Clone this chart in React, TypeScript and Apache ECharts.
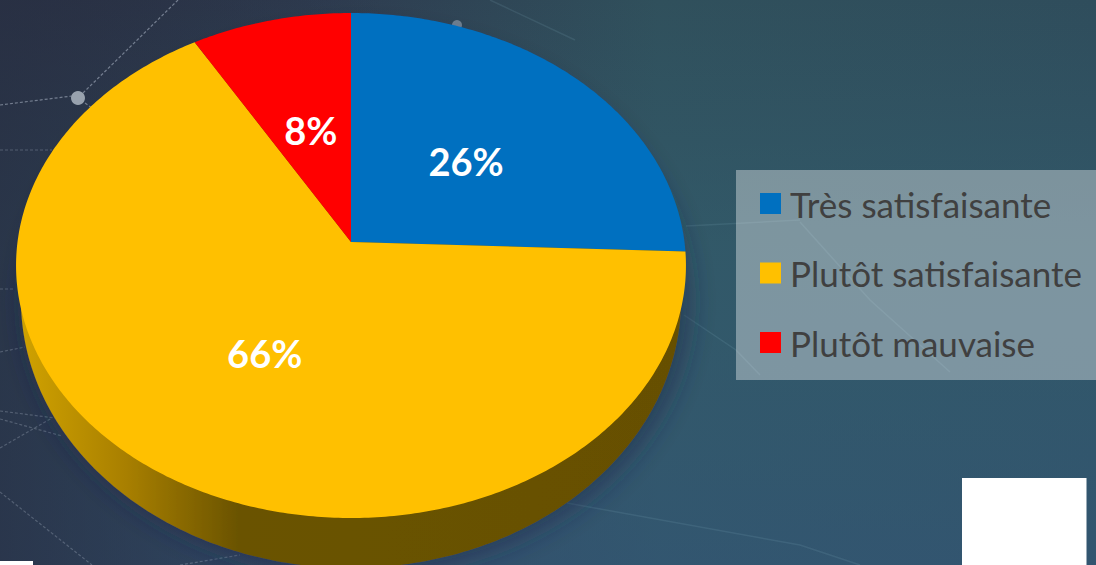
import React, { useEffect, useRef } from "react";
import * as echarts from "echarts";

const categories = ["Très satisfaisante", "Plutôt satisfaisante", "Plutôt mauvaise"];
const shares = [25.6, 65.95, 8.45];
const colors = ["#0070c0", "#ffc000", "#ff0000"];

const W = 1096;
const H = 565;
const FONT = "Lato";

// Perspective projection of the tilted pie disc
const APEX_X = 351;
const APEX_Y = 242;
const RX = 333.5;
const RY = 250.3;
const K = 0.0931;

const project = (thetaDeg: number, f: number) => {
  const t = (thetaDeg * Math.PI) / 180;
  const u = Math.sin(t) * f;
  const v = Math.cos(t) * f;
  const d = 1 + K * v;
  return [APEX_X + (RX * u) / d, APEX_Y - (RY * v) / d];
};

const total = shares.reduce((a, b) => a + b, 0);
const starts: number[] = [];
shares.reduce((acc, s, i) => {
  starts[i] = acc;
  return acc + s;
}, 0);

const bgLines: number[][][] = [
  [[178, 0], [83, 93]],
  [[0, 105], [72, 96]],
  [[85, 103], [92, 108]],
  [[0, 150], [52, 150]],
  [[0, 289], [15, 289]],
  [[0, 352], [25, 347]],
  [[0, 411], [55, 418]],
  [[0, 419], [62, 436]],
  [[0, 448], [52, 418]],
  [[0, 492], [92, 565]],
  [[180, 565], [240, 555]],
  [[490, 0], [575, 40]],
  [[686, 226], [800, 220]],
  [[800, 222], [870, 300], [950, 372]],
  [[684, 315], [736, 350], [760, 375]],
  [[567, 503], [800, 545], [860, 565]],
];

const App = () => {
  const ref = useRef<HTMLDivElement>(null);
  useEffect(() => {
    document.body.style.margin = "0";
    const chart = echarts.init(ref.current!, undefined, { renderer: "svg", width: W, height: H });
    const wallFill = new echarts.graphic.LinearGradient(0, 0, 1, 0, [
      { offset: 0, color: "#d0a200" },
      { offset: 0.16, color: "#a87f00" },
      { offset: 0.33, color: "#6a5300" },
      { offset: 1, color: "#665000" },
    ]);
    const sliceSeries = categories.map((name, i) => ({
      type: "custom",
      name,
      coordinateSystem: "none",
      z: 5,
      silent: true,
      itemStyle: { color: colors[i] },
      data: [[starts[i], shares[i]]],
      renderItem: (_: any, api: any) => {
        const a0 = (api.value(0) / total) * 360;
        const span = (api.value(1) / total) * 360;
        const n = Math.max(2, Math.ceil(span * 1.5));
        const pts: number[][] = [[APEX_X, APEX_Y]];
        for (let s = 0; s <= n; s++) pts.push(project(a0 + (span * s) / n, 1));
        const [lx, ly] = project(a0 + span / 2, 0.49);
        return {
          type: "group",
          children: [
            { type: "polygon", shape: { points: pts }, style: { fill: colors[i] } },
            {
              type: "text",
              style: {
                x: lx + 1,
                y: ly + 1,
                text: Math.round(api.value(1)) + "%",
                fill: "#ffffff",
                fontFamily: FONT,
                fontWeight: "bold",
                fontSize: 38,
                align: "center",
                verticalAlign: "middle",
              },
            },
          ],
        };
      },
    }));
    const wallSeries = {
      type: "custom",
      name: "wall",
      coordinateSystem: "none",
      z: 3,
      silent: true,
      data: [[0]],
      renderItem: () => {
        const pts: number[][] = [];
        for (let a = 0; a < 360; a += 1) {
          const t = (a * Math.PI) / 180;
          pts.push([351 + 330 * Math.sin(t), 300 - 268 * Math.cos(t)]);
        }
        return {
          type: "polygon",
          shape: { points: pts },
          style: {
            fill: wallFill,
            shadowColor: "rgba(30,40,70,0.6)",
            shadowBlur: 28,
            shadowOffsetX: 6,
            shadowOffsetY: 2,
          },
        };
      },
    };
    chart.setOption({
      animation: false,
      backgroundColor: "#2f4a5a",
      legend: {
        data: categories,
        orient: "vertical",
        left: 755,
        top: 181,
        icon: "rect",
        itemWidth: 21,
        itemHeight: 21,
        itemGap: 34.5,
        selectedMode: false,
        textStyle: { color: "#404040", fontFamily: FONT, fontSize: 35, padding: [0, 0, 12, 4] },
      },
      graphic: {
        elements: [
          {
            type: "rect",
            z: -10,
            silent: true,
            shape: { x: 0, y: 0, width: W, height: H },
            style: {
              fill: new echarts.graphic.LinearGradient(0, 0, 1, 0, [
                { offset: 0, color: "#2a3042" },
                { offset: 0.3, color: "#2e3c50" },
                { offset: 0.6, color: "#30505c" },
                { offset: 1, color: "#2f4d5c" },
              ]),
            },
          },
          {
            type: "rect",
            z: -9,
            silent: true,
            shape: { x: 0, y: 0, width: W, height: H },
            style: {
              fill: new echarts.graphic.LinearGradient(0, 0, 0, 1, [
                { offset: 0, color: "rgba(52,100,120,0)" },
                { offset: 0.45, color: "rgba(52,100,120,0.45)" },
                { offset: 1, color: "rgba(52,90,125,0.6)" },
              ]),
            },
          },
          {
            type: "rect",
            z: -9,
            silent: true,
            shape: { x: 0, y: 0, width: W, height: H },
            style: {
              fill: new echarts.graphic.LinearGradient(0, 0, 1, 0, [
                { offset: 0, color: "rgba(40,48,68,0.75)" },
                { offset: 0.35, color: "rgba(40,48,68,0)" },
                { offset: 1, color: "rgba(40,48,68,0)" },
              ]),
            },
          },
          ...bgLines.map((points, i) => ({
            type: "polyline",
            z: -8,
            silent: true,
            shape: { points },
            style: {
              fill: "none",
              stroke: i < 3 ? "rgba(190,200,215,0.5)" : i < 11 ? "rgba(190,200,215,0.28)" : "rgba(150,195,205,0.13)",
              lineWidth: i < 11 ? 1.2 : 1.5,
              lineDash: i < 11 ? [3, 2] : undefined,
            },
          })),
          { type: "circle", z: -7, silent: true, shape: { cx: 78, cy: 98, r: 7 }, style: { fill: "#98a2ae" } },
          { type: "circle", z: -7, silent: true, shape: { cx: 457, cy: 25, r: 5 }, style: { fill: "#6f8090" } },
          {
            type: "rect",
            z: -6,
            silent: true,
            shape: { x: 736, y: 170, width: 360, height: 210 },
            style: { fill: "rgba(255,255,255,0.37)" },
          },
          { type: "rect", z: 1, silent: true, shape: { x: 962, y: 478, width: 124.5, height: 87 }, style: { fill: "#ffffff" } },
          { type: "rect", z: 1, silent: true, shape: { x: 0, y: 561, width: 33, height: 4 }, style: { fill: "#ffffff" } },
        ],
      },
      series: [wallSeries, ...sliceSeries],
    });
    return () => chart.dispose();
  }, []);
  return <div ref={ref} style={{ position: "absolute", left: 0, top: 0, width: W, height: H }} />;
};

export default App;
